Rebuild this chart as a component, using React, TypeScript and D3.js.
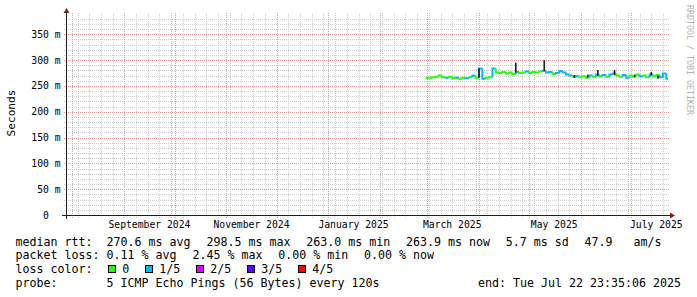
import React from "react";
import * as d3 from "d3";

// ---------- data ----------
const timeStart = "2024-07-28T03:00:00Z";
const timeEnd = "2025-07-22T23:35:06Z";
const yTicks = [0, 50, 100, 150, 200, 250, 300, 350];
const yTickLabels = ["0  ", "50 m", "100 m", "150 m", "200 m", "250 m", "300 m", "350 m"];
const xLabelMonths = ["2024-09-01", "2024-11-01", "2025-01-01", "2025-03-01", "2025-05-01", "2025-07-01"];

const seriesStart = "2025-02-28"; // samples every 2 days
const medianMs = [
  265, 266, 267, 268, 270, 267, 266, 268, 265, 266, 264, 266, 265, 267, 270, 266,
  284, 264, 266, 267, 284, 276, 275, 277, 274, 276, 273, 277, 275, 276, 278, 275,
  277, 276, 278, 279, 276, 277, 273, 275, 279, 276, 272, 270, 268, 269, 267, 269,
  266, 270, 268, 272, 269, 271, 268, 272, 274, 270, 268, 271, 266, 270, 268, 272,
  269, 270, 267, 272, 269, 271, 267, 274, 264,
];
const lossOfFive = [
  0, 0, 0, 0, 0, 0, 1, 0, 0, 1, 0, 0, 1, 0, 1, 0,
  1, 1, 0, 0, 1, 0, 0, 0, 0, 0, 0, 1, 0, 0, 1, 0,
  0, 0, 0, 1, 1, 1, 0, 1, 1, 1, 1, 1, 0, 1, 0, 0,
  0, 1, 0, 1, 0, 1, 0, 1, 1, 0, 0, 1, 1, 0, 0, 0,
  1, 0, 0, 1, 0, 0, 1, 1, 1,
];
const smokeDates = ["2025-04-01", "2025-04-23", "2025-05-10", "2025-05-28", "2025-06-05", "2025-06-11", "2025-06-21", "2025-07-03", "2025-07-13", "2025-07-17"];
const smokeLow = [266, 276, 279, 266, 266, 269, 271, 267, 270, 264];
const smokeHigh = [284, 295, 300, 271, 272, 281, 281, 272, 277, 270];

const lossLabels = ["0", "1/5", "2/5", "3/5", "4/5"];
const lossColors = ["#26ff00", "#00b8ff", "#dd00ff", "#5e00ff", "#ff0000"];

const medianItems = ["270.6 ms avg  ", "298.5 ms max  ", "263.0 ms min  ", "263.9 ms now  ", "5.7 ms sd  ", "47.9   am/s"];
const lossItems = ["0.11 % avg  ", "2.45 % max  ", "0.00 % min  ", "0.00 % now"];
const probeText = "5 ICMP Echo Pings (56 Bytes) every 120s";
const endText = "end: Tue Jul 22 23:35:06 2025";

// ---------- layout ----------
const W = 697, H = 297;
const X0 = 66, X1 = 668, Y0 = 215, Y1 = 15;
const MONO = "'DejaVu Sans Mono', monospace";
const LEG_FS = 11.63;
const CW = 7;
const AX_FS = 9.72;
const lineY = [245.7, 259.4, 273.3, 287.3];
const labelX = 15.4;
const valX = 106.6;
const itemGap = 1.8;

export default function App() {
  const x = d3.scaleUtc().domain([new Date(timeStart), new Date(timeEnd)]).range([X0, X1]);
  const y = d3.scaleLinear().domain([0, 387.4]).range([Y0, Y1]);
  const px = (v: number) => Math.round(v) + 0.5;

  const months = d3.utcMonth.range(x.domain()[0], x.domain()[1]);
  const monthSet = new Set(months.map((d) => +d));
  const sundays = d3.utcSunday.range(x.domain()[0], x.domain()[1]).filter((d) => !monthSet.has(+d));

  const minorY = d3.range(10, 390, 10).filter((v) => v % 50 !== 0);
  const majorY = yTicks.filter((v) => v > 0);

  const t0 = new Date(seriesStart + "T00:00:00Z");
  const dates = medianMs.map((_, i) => d3.utcDay.offset(t0, 2 * i));
  const fmt = d3.utcFormat("%B %Y");

  const segs = medianMs.map((v, i) => {
    const xa = x(dates[i]);
    const xb = i < medianMs.length - 1 ? x(dates[i + 1]) : X1;
    const yv = y(v);
    const yPrev = i > 0 ? y(medianMs[i - 1]) : yv;
    const path = d3.path();
    path.moveTo(xa, yPrev);
    path.lineTo(xa, yv);
    path.lineTo(Math.min(xb, X1), yv);
    return { d: path.toString(), c: lossColors[lossOfFive[i]] };
  });

  let mx = valX;
  const medianPos = medianItems.map((s) => { const p = mx; mx += s.length * CW + itemGap; return p; });
  let lx = valX;
  const lossPos = lossItems.map((s) => { const p = lx; lx += s.length * CW + itemGap; return p; });
  let bx = 108.5;
  const boxPos = lossLabels.map((s) => { const p = bx; bx += 13.7 + s.length * CW + 16.3; return p; });

  const textStyle: React.CSSProperties = { whiteSpace: "pre" };

  return (
    <svg width={W} height={H} style={{ position: "absolute", left: 0, top: 0, background: "#fff" }} fontFamily={MONO}>
      <rect x={0} y={0} width={W} height={H} fill="#ffffff" />
      <g stroke="#cdcdcd" strokeWidth={1} strokeDasharray="1,1" shapeRendering="crispEdges">
        {minorY.map((v) => (
          <line key={"my" + v} x1={X0 - 2} x2={X1 + 2} y1={px(y(v))} y2={px(y(v))} />
        ))}
        {sundays.map((d) => (
          <line key={"mx" + +d} x1={px(x(d))} x2={px(x(d))} y1={Y0 + 3} y2={Y1 - 2} />
        ))}
      </g>
      <g stroke="#eb9a9a" strokeWidth={1} strokeDasharray="1,1" shapeRendering="crispEdges">
        {majorY.map((v) => (
          <line key={"My" + v} x1={X0 - 2} x2={X1 + 2} y1={px(y(v))} y2={px(y(v))} />
        ))}
        {months.map((d) => (
          <line key={"Mx" + +d} x1={px(x(d))} x2={px(x(d))} y1={Y0 + 3} y2={Y1 - 2} />
        ))}
      </g>
      <g fill="none" strokeWidth={2}>
        {segs.map((s, i) => (
          <path key={"m" + i} d={s.d} stroke={s.c} />
        ))}
      </g>
      <g fill="#1e1e1e">
        {smokeDates.map((s, i) => {
          const xx = x(new Date(s + "T00:00:00Z"));
          return <rect key={"s" + i} x={xx - 0.8} width={1.6} y={y(smokeHigh[i])} height={y(smokeLow[i]) - y(smokeHigh[i])} />;
        })}
      </g>
      <line x1={X0 - 4} x2={X1 + 4} y1={Y0 + 0.5} y2={Y0 + 0.5} stroke="#1f1f1f" strokeWidth={1} />
      <line x1={X0 + 0.5} x2={X0 + 0.5} y1={Y0 + 4} y2={Y1 - 4} stroke="#1f1f1f" strokeWidth={1} />
      <path d={`M${X1 + 2},${Y0 + 0.5 - 3}L${X1 + 2},${Y0 + 0.5 + 3}L${X1 + 7},${Y0 + 0.5}Z`} fill="#801f1f" />
      <path d={`M${X0 + 0.5 - 3},${Y1 - 2}L${X0 + 0.5 + 3},${Y1 - 2}L${X0 + 0.5},${Y1 - 7}Z`} fill="#801f1f" />
      <g fontSize={AX_FS} fill="#000" textAnchor="end">
        {yTicks.map((v, i) => (
          <text key={"yl" + v} x={60.6} y={y(v) + 3.5} xmlSpace="preserve" style={textStyle}>{yTickLabels[i]}</text>
        ))}
      </g>
      <g fontSize={AX_FS} fill="#000" textAnchor="middle">
        {xLabelMonths.map((s) => {
          const d = new Date(s + "T00:00:00Z");
          return <text key={"xl" + s} x={x(d3.utcDay.offset(d, 15))} y={227.8}>{fmt(d)}</text>;
        })}
      </g>
      <text transform="translate(15.2,113) rotate(-90)" textAnchor="middle" fontSize={11.1} fill="#000">Seconds</text>
      <text transform="translate(686.5,5) rotate(90)" fontSize={8.3} fill="#b3b3b3">RRDTOOL / TOBI OETIKER</text>
      <g fontSize={LEG_FS} fill="#000">
        <text x={labelX} y={lineY[0]}>median rtt:</text>
        {medianItems.map((s, i) => (
          <text key={"mi" + i} x={medianPos[i]} y={lineY[0]} xmlSpace="preserve" style={textStyle}>{s}</text>
        ))}
        <text x={labelX} y={lineY[1]}>packet loss:</text>
        {lossItems.map((s, i) => (
          <text key={"li" + i} x={lossPos[i]} y={lineY[1]} xmlSpace="preserve" style={textStyle}>{s}</text>
        ))}
        <text x={labelX} y={lineY[2]}>loss color:</text>
        {lossLabels.map((s, i) => (
          <g key={"lc" + i}>
            <rect x={boxPos[i]} y={265.5} width={7} height={7} fill={lossColors[i]} stroke="#000" strokeWidth={1} />
            <text x={boxPos[i] + 13.7} y={lineY[2]}>{s}</text>
          </g>
        ))}
        <text x={labelX} y={lineY[3]}>probe:</text>
        <text x={valX} y={lineY[3]}>{probeText}</text>
        <text x={681} y={lineY[3]} textAnchor="end">{endText}</text>
      </g>
    </svg>
  );
}
